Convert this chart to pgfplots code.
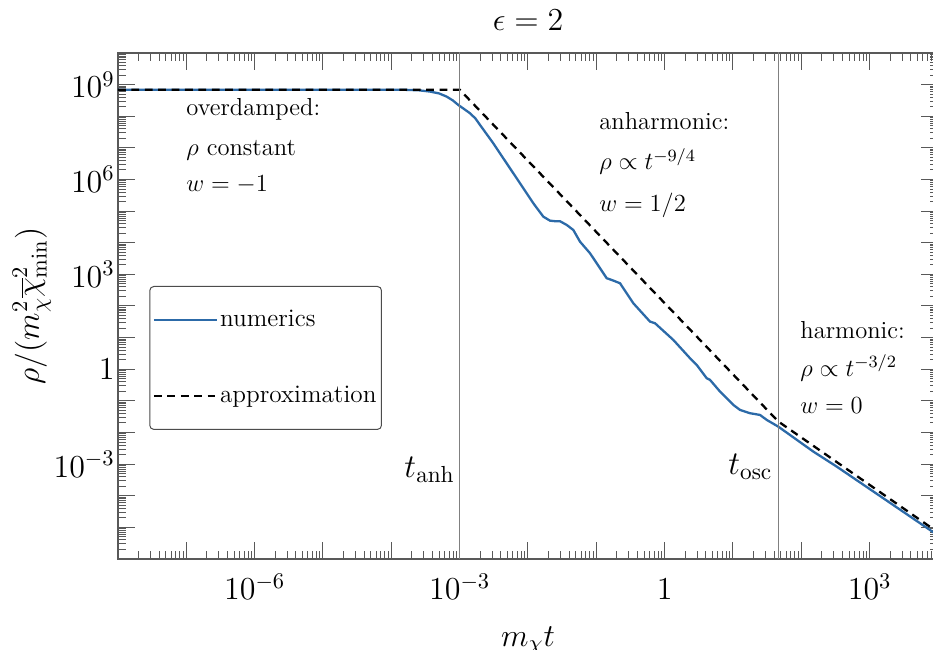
\RequirePackage{fix-cm}
\documentclass[border=0pt]{standalone}
\usepackage{pgfplots}
\pgfplotsset{compat=1.18}
\definecolor{numblue}{RGB}{44,106,168}
\newcommand{\bigf}{\fontsize{16}{19}\selectfont}
\newcommand{\tf}{\fontsize{16.6}{19}\selectfont}
\newcommand{\medf}{\fontsize{12.3}{15}\selectfont}
\newcommand{\legf}{\fontsize{12.6}{15}\selectfont}
\begin{document}
\begin{tikzpicture}
\begin{axis}[
  xmode=log, ymode=log,
  scale only axis,
  width=410pt, height=253pt,
  xmin=1e-8, xmax=1e4, ymin=1e-6, ymax=1e10,
  axis line style={black!65, line width=0.6pt},
  tick align=inside, tick pos=both,
  every tick/.style={black!65, line width=0.5pt},
  major tick length=8.3pt, minor tick length=4.2pt,
  xtick={1e-8,1e-7,1e-6,1e-5,1e-4,1e-3,1e-2,1e-1,1,1e1,1e2,1e3,1e4},
  xticklabels={,,$10^{-6}$,,,$10^{-3}$,,,$1$,,,$10^{3}$,},
  ytick={1e-6,1e-5,1e-4,1e-3,1e-2,1e-1,1,1e1,1e2,1e3,1e4,1e5,1e6,1e7,1e8,1e9,1e10},
  yticklabels={,,,$10^{-3}$,,,$1$,,,$10^{3}$,,,$10^{6}$,,,$10^{9}$,},
  ticklabel style={font=\bigf},
  xticklabel style={anchor=base, yshift=-20.5pt},
  yticklabel style={inner sep=0pt, xshift=-1.5pt},
  xlabel={$m_\chi t$},
  xlabel style={at={(rel axis cs:0.5,-0.172)}, anchor=base, font=\bigf},
  ylabel={$\rho/(m_\chi^2\overline{\chi}_{\rm min}^2)$},
  ylabel style={at={(rel axis cs:-0.105,0.5)}, anchor=center, font=\bigf},
  legend style={at={(rel axis cs:0.0382,0.5395)}, anchor=north west,
    draw=black!70, line width=0.5pt, rounded corners=2pt,
    inner xsep=1.5pt, inner ysep=11pt, row sep=26pt,
    font=\legf, nodes={inner sep=1pt}},
  legend cell align=left,
  legend image code/.code={\draw[#1] (0pt,0pt) -- (31.5pt,0pt);},
]
\addplot[numblue, line width=1.15pt] coordinates {
(1e-8,6.918e8) (1e-5,6.918e8) (6.82e-5,6.918e8) (1.585e-4,6.839e8)
(2.512e-4,6.607e8) (3.68e-4,6.026e8) (5.01e-4,5.248e8) (6.46e-4,4.169e8)
(7.94e-4,3.162e8) (9.55e-4,2.270e8) (1.175e-3,1.660e8) (1.416e-3,1.242e8)
(1.70e-3,8.511e7) (1.986e-3,5.297e7) (3.105e-3,1.396e7) (6.095e-3,1.574e6)
(1.197e-2,1.770e5) (1.675e-2,6.683e4) (2.099e-2,4.989e4) (2.512e-2,4.786e4)
(2.944e-2,4.775e4) (3.690e-2,3.648e4) (4.603e-2,2.535e4) (5.768e-2,1.081e4)
(8.091e-2,4645) (0.1419,753.4) (0.1679,665.3) (0.2223,523.6)
(0.3475,122.2) (0.6109,31.99) (0.7228,28.44) (1.340,8.433)
(2.350,2.228) (2.944,1.368) (4.121,0.5188) (4.613,0.4592)
(6.471,0.1959) (10.12,0.07430) (12.68,0.05164) (17.74,0.04064)
(24.89,0.03589) (31.19,0.02495) (46.03,0.01531) (150.0,2.483e-3)
(329.6,8.337e-4) (1e4,5.559e-6)
};
\addlegendentry{numerics}
\addplot[black, line width=1.15pt, dash pattern=on 3.9pt off 2.8pt] coordinates {
(1e-8,6.918e8) (1e-3,6.918e8) (46.0,0.02228) (1e4,6.95e-6)
};
\addlegendentry{approximation}
\addplot[black!50, line width=0.65pt, forget plot] coordinates {(1e-3,1e-7) (1e-3,1e11)};
\addplot[black!50, line width=0.65pt, forget plot] coordinates {(46.0,1e-7) (46.0,1e11)};
\begin{scope}[every node/.style={anchor=base west, font=\medf, inner sep=0pt}]
\node at (rel axis cs:0.0829,0.8755) {overdamped:};
\node at (rel axis cs:0.0829,0.798) {$\rho$ constant};
\node at (rel axis cs:0.0829,0.726) {$w=-1$};
\node at (rel axis cs:0.5866,0.8494) {anharmonic:};
\node at (rel axis cs:0.5866,0.7688) {$\rho\propto t^{-9/4}$};
\node at (rel axis cs:0.5866,0.6877) {$w=1/2$};
\node at (rel axis cs:0.8317,0.4362) {harmonic:};
\node at (rel axis cs:0.8317,0.3603) {$\rho\propto t^{-3/2}$};
\node at (rel axis cs:0.8317,0.2879) {$w=0$};
\end{scope}
\node[anchor=base east, font=\tf, inner sep=0pt] at (rel axis cs:0.411,0.1615) {$t_{\rm anh}$};
\node[anchor=base east, font=\tf, inner sep=0pt] at (rel axis cs:0.7984,0.166) {$t_{\rm osc}$};
\coordinate (ttl) at (rel axis cs:0.5,1.0435);
\coordinate (bbsw) at (rel axis cs:-0.1439,-0.1798);
\coordinate (bbne) at (rel axis cs:0.9939,1.1047);
\end{axis}
\node[anchor=base, font=\bigf, inner sep=0pt] at (ttl) {$\epsilon = 2$};
\pgfresetboundingbox
\useasboundingbox (bbsw) rectangle (bbne);
\end{tikzpicture}
\end{document}
